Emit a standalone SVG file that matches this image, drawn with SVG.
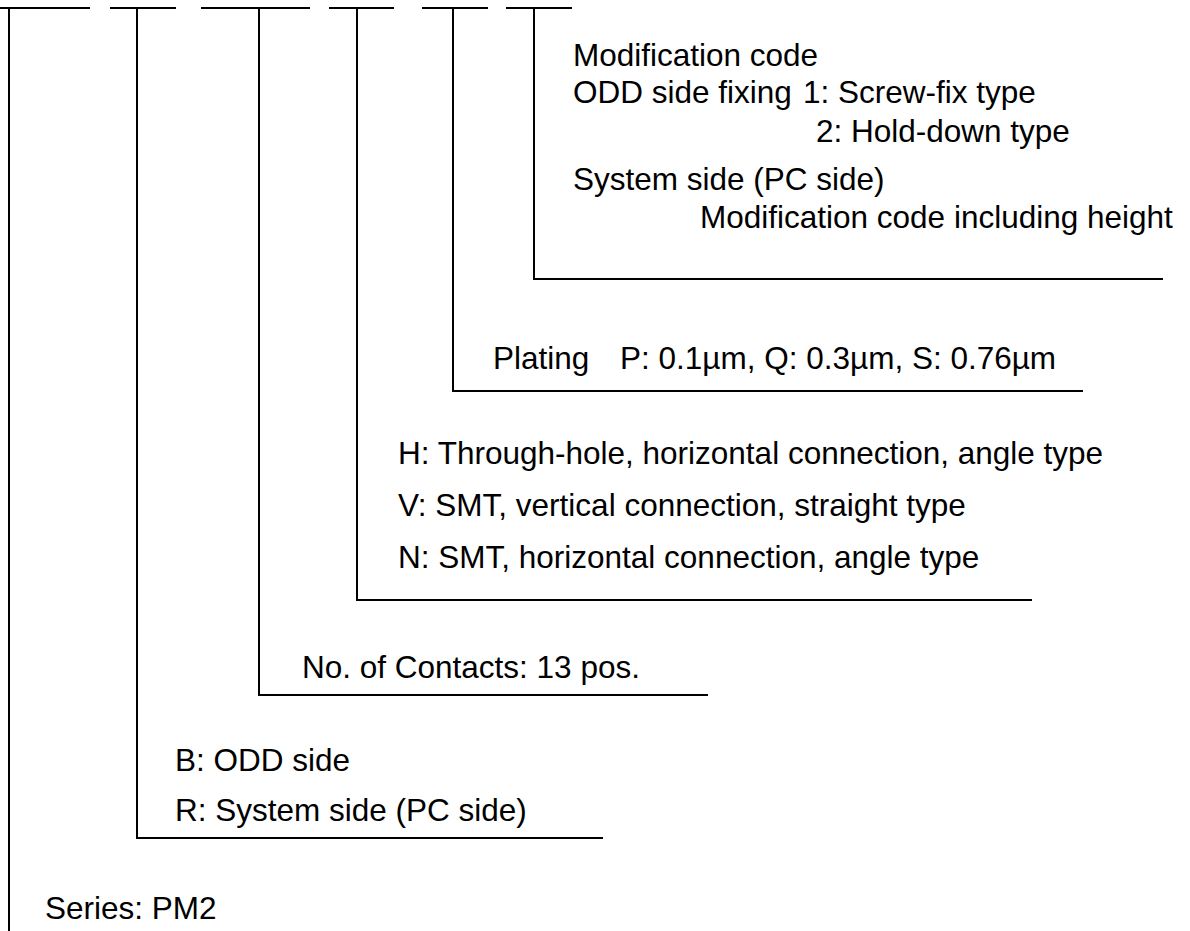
<svg xmlns="http://www.w3.org/2000/svg" width="1190" height="931" viewBox="0 0 1190 931">
<style>
.ln{stroke:#000;stroke-width:2;fill:none}
text{font-family:"Liberation Sans",Arial,sans-serif;font-size:31.5px;fill:#000}
</style>
<rect width="1190" height="931" fill="#fff"/>
<g id="connectors" class="ln">
<path d="M0 8H90M110 8H176M201 8H310M329 8H394M422 8H488M506 8H572"/>
<path d="M9 8V931"/>
<path d="M137 8V838H603"/>
<path d="M259 8V695H708"/>
<path d="M357 8V600H1032"/>
<path d="M453 8V391H1083"/>
<path d="M534 8V279H1163"/>
</g>
<g id="modification">
<text x="573" y="66">Modification code</text>
<text x="573" y="103">ODD side fixing<tspan x="803">1: Screw-fix type</tspan></text>
<text x="816" y="142">2: Hold-down type</text>
<text x="573" y="190">System side (PC side)</text>
<text x="700" y="228">Modification code including height</text>
</g>
<g id="plating">
<text x="493" y="369">Plating<tspan x="620">P: 0.1µm, Q: 0.3µm, S: 0.76µm</tspan></text>
</g>
<g id="type">
<text x="398" y="464">H: Through-hole, horizontal connection, angle type</text>
<text x="398" y="516">V: SMT, vertical connection, straight type</text>
<text x="398" y="568">N: SMT, horizontal connection, angle type</text>
</g>
<g id="contacts">
<text x="302" y="678">No. of Contacts: 13 pos.</text>
</g>
<g id="side">
<text x="175" y="771">B: ODD side</text>
<text x="175" y="821">R: System side (PC side)</text>
</g>
<g id="series">
<text x="45" y="919">Series: PM2</text>
</g>
</svg>
